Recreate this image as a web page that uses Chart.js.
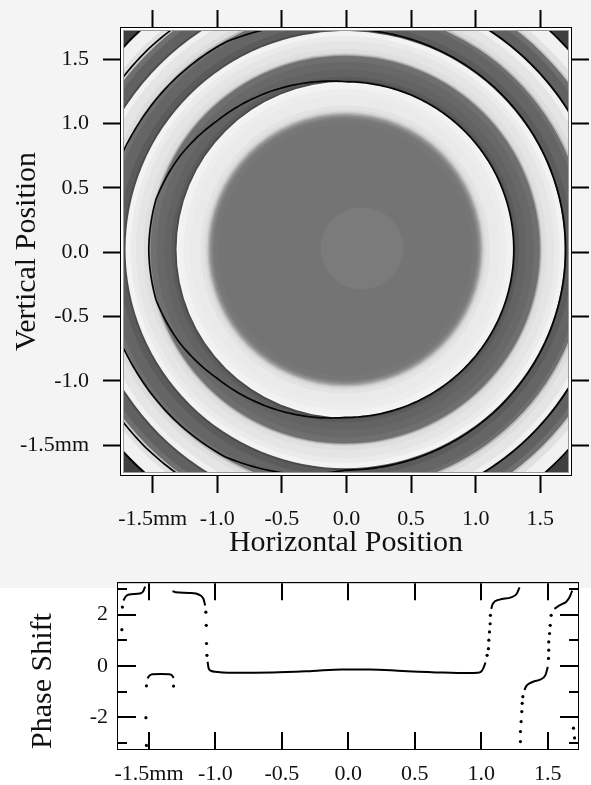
<!DOCTYPE html>
<html>
<head>
<meta charset="utf-8">
<script src="https://cdn.jsdelivr.net/npm/chart.js@4.4.0/dist/chart.umd.min.js"></script>
<style>
  html, body { margin: 0; padding: 0; }
  body {
    width: 591px; height: 785px; position: relative; overflow: hidden;
    background: linear-gradient(to bottom, #f4f4f4 0, #f4f4f4 588px, #ffffff 588px);
  }
  #mapChart { position: absolute; left: 0; top: 0; }
  #phaseChart { position: absolute; left: 0; top: 560px; }
</style>
</head>
<body>
<canvas id="mapChart" width="591" height="560"></canvas>
<canvas id="phaseChart" width="591" height="225"></canvas>
<script>
// ticks
const posTicks = [-1.5, -1.0, -0.5, 0.0, 0.5, 1.0, 1.5];
const posTickLabels = ['-1.5mm', '-1.0', '-0.5', '0.0', '0.5', '1.0', '1.5'];
const phaseTicks = [-2, 0, 2];
const phaseTickLabels = ['-2', '0', '2'];
const phaseMinorTicks = [-3, -1, 1, 3];

// phase map: rings round the centre, each phase fills the band out to its radius (mm)
const ringCentre = [-0.01, 0.02];
const ringRadius = [0.98, 1.015, 1.03, 1.045, 1.055, 1.065, 1.075, 1.09, 1.12, 1.2, 1.25, 1.29, 1.305, 1.32, 1.345, 1.4, 1.46, 1.505, 1.512, 1.518, 1.528, 1.56, 1.62, 1.66, 1.7, 1.715, 1.76, 1.84, 1.87, 1.885, 1.92, 1.99, 2.03, 2.045, 2.12, 2.16, 2.175, 2.22, 2.32, 2.6];
const ringPhase = [-0.28, -0.22, -0.05, 0.3, 0.8, 1.4, 1.95, 2.25, 2.45, 2.62, 2.7, 2.82, 2.95, -1.3, -0.9, -0.7, -0.58, -0.4, 0.4, 1.3, 2.0, 2.35, 2.5, 2.65, 2.85, -1.3, -0.9, -0.65, -0.4, 1.5, 2.3, 2.5, 2.8, -1.3, -0.75, -0.4, 1.8, 2.4, 2.8, -1.6];
// wrap lines (phase jumps from +pi to -pi), radius (mm) at each angle (deg)
const wrapAngles = [-180, -165, -150, -135, -120, -105, -90, 0, 90, 105, 120, 135, 150, 165, 180];
const wrap1Radius = [1.52, 1.515, 1.47, 1.41, 1.37, 1.335, 1.305, 1.305, 1.305, 1.335, 1.37, 1.41, 1.47, 1.515, 1.52];
const wrap2Radius = [1.89, 1.885, 1.875, 1.87, 1.86, 1.8, 1.715, 1.705, 1.715, 1.8, 1.86, 1.87, 1.875, 1.885, 1.89];
const wrap3Radius = [2.19, 2.19, 2.18, 2.18, 2.17, 2.12, 2.04, 2.035, 2.04, 2.12, 2.17, 2.18, 2.18, 2.19, 2.19];
const wrap4Radius = [2.33, 2.33, 2.33, 2.33, 2.33, 2.33, 2.325, 2.325, 2.325, 2.33, 2.33, 2.33, 2.33, 2.33, 2.33];
const spotCentre = [0.12, 0.03];
const spotRadius = 0.32;
const spotPhase = -0.12;

// phase shift along the horizontal line, smooth runs
const farLeftX = [-1.692, -1.674, -1.649, -1.561, -1.541, -1.529];
const farLeftY = [2.55, 2.71, 2.78, 2.83, 2.93, 3.09];
const leftDipX = [-1.511, -1.495, -1.474, -1.41, -1.348, -1.325, -1.315];
const leftDipY = [-0.49, -0.38, -0.33, -0.32, -0.33, -0.38, -0.47];
const leftShoulderX = [-1.323, -1.298, -1.197, -1.122, -1.09, -1.077];
const leftShoulderY = [2.91, 2.87, 2.84, 2.77, 2.61, 2.35];
const plateauX = [-1.059, -1.051, -1.03, -1.0, -0.9, -0.57, -0.27, -0.05, 0.16, 0.41, 0.71, 0.91, 0.97, 1.0, 1.015, 1.032];
const plateauY = [0.16, -0.1, -0.2, -0.23, -0.27, -0.26, -0.2, -0.14, -0.14, -0.2, -0.26, -0.28, -0.27, -0.22, -0.1, 0.13];
const rightShoulderX = [1.075, 1.087, 1.137, 1.225, 1.267, 1.288];
const rightShoulderY = [2.22, 2.42, 2.58, 2.67, 2.81, 3.06];
const rightDipX = [1.325, 1.34, 1.363, 1.40, 1.438, 1.483, 1.501];
const rightDipY = [-0.94, -0.78, -0.68, -0.6, -0.55, -0.36, -0.04];
const rightEdgeX = [1.551, 1.58, 1.614, 1.64, 1.664, 1.684];
const rightEdgeY = [2.22, 2.33, 2.42, 2.5, 2.67, 2.93];
// single samples on the steep parts
const stepX = [-1.704, -1.70, -1.523, -1.519, -1.519, -1.315, -1.072, -1.069, -1.067, -1.064, 1.044, 1.054, 1.057, 1.062, 1.067, 1.069, 1.295, 1.295, 1.300, 1.305, 1.308, 1.313, 1.506, 1.508, 1.508, 1.514, 1.519, 1.526, 1.694, 1.702];
const stepY = [1.41, 2.29, -2.02, -3.1, -0.78, -0.79, 2.09, 1.58, 0.87, 0.41, 0.41, 0.67, 1.0, 1.32, 1.64, 1.97, -2.95, -2.56, -2.17, -1.78, -1.46, -1.2, 0.29, 0.61, 0.93, 1.26, 1.58, 1.97, -2.43, -2.81];

const serif = "'Liberation Serif', 'Times New Roman', serif";
const ink = '#111';

function phaseGray(p) {
  const g = Math.max(0, Math.min(255, Math.round(255 * (p + Math.PI) / (2 * Math.PI))));
  return 'rgb(' + g + ',' + g + ',' + g + ')';
}
function fixTicks(values) {
  return scale => { scale.ticks = values.map(v => ({ value: v })); };
}
function pts(xs, ys) {
  return xs.map((v, i) => ({ x: v, y: ys[i] }));
}

const phaseMap = {
  id: 'phaseMap',
  beforeDatasetsDraw(chart) {
    const { ctx, chartArea: a, scales: { x, y } } = chart;
    const inset = 3;
    const box = { l: a.left + inset, t: a.top + inset, r: a.right - inset, b: a.bottom - inset };
    const toPx = (r, deg) => {
      const t = deg * Math.PI / 180;
      return [x.getPixelForValue(ringCentre[0] + r * Math.cos(t)), y.getPixelForValue(ringCentre[1] + r * Math.sin(t))];
    };
    ctx.save();
    ctx.fillStyle = '#ffffff';
    ctx.fillRect(a.left, a.top, a.width, a.height);
    ctx.beginPath();
    ctx.rect(box.l, box.t, box.r - box.l, box.b - box.t);
    ctx.clip();
    const cx = x.getPixelForValue(ringCentre[0]);
    const cy = y.getPixelForValue(ringCentre[1]);
    for (let i = ringRadius.length - 1; i >= 0; i--) {
      const rx = x.getPixelForValue(ringCentre[0] + ringRadius[i]) - cx;
      const ry = cy - y.getPixelForValue(ringCentre[1] + ringRadius[i]);
      ctx.fillStyle = phaseGray(ringPhase[i]);
      ctx.beginPath();
      ctx.ellipse(cx, cy, rx, ry, 0, 0, 2 * Math.PI);
      ctx.fill();
    }
    // lighter spot near the middle
    const sx = x.getPixelForValue(spotCentre[0]);
    const sy = y.getPixelForValue(spotCentre[1]);
    ctx.fillStyle = phaseGray(spotPhase);
    ctx.beginPath();
    ctx.ellipse(sx, sy, x.getPixelForValue(spotCentre[0] + spotRadius) - sx,
      sy - y.getPixelForValue(spotCentre[1] + spotRadius), 0, 0, 2 * Math.PI);
    ctx.fill();
    // wrap lines
    ctx.strokeStyle = '#050505';
    ctx.lineWidth = 1.7;
    [wrap1Radius, wrap2Radius, wrap3Radius, wrap4Radius].forEach(radius => {
      ctx.beginPath();
      for (let k = 0; k < wrapAngles.length - 1; k++) {
        const a0 = wrapAngles[k], a1 = wrapAngles[k + 1];
        const steps = Math.max(1, Math.round(a1 - a0));
        for (let s = 0; s <= steps; s++) {
          const f = s / steps;
          const p = toPx(radius[k] + (radius[k + 1] - radius[k]) * f, a0 + (a1 - a0) * f);
          if (k === 0 && s === 0) ctx.moveTo(p[0], p[1]); else ctx.lineTo(p[0], p[1]);
        }
      }
      ctx.stroke();
    });
    ctx.restore();
    ctx.save();
    ctx.strokeStyle = '#9a9a9a';
    ctx.lineWidth = 1;
    ctx.strokeRect(box.l - 0.5, box.t - 0.5, box.r - box.l + 1, box.b - box.t + 1);
    ctx.restore();
  }
};

const outTicks = { drawOnChartArea: false, drawTicks: true, tickLength: 18, tickWidth: 2, tickColor: '#000' };
const frame = { display: true, color: '#000', width: 2 };
const tickFont = { family: serif, size: 22 };
const titleFont = { family: serif, size: 30, lineHeight: 1 };

new Chart(document.getElementById('mapChart'), {
  type: 'scatter',
  data: { datasets: [] },
  options: {
    responsive: false,
    animation: false,
    events: [],
    layout: { padding: 0 },
    plugins: { legend: { display: false }, tooltip: { enabled: false } },
    scales: {
      x: {
        type: 'linear', position: 'bottom', min: -1.745, max: 1.738,
        afterBuildTicks: fixTicks(posTicks),
        afterFit: s => { s.height = 85; },
        grid: outTicks, border: frame,
        ticks: { padding: 13, font: tickFont, color: ink, maxRotation: 0, autoSkip: false, callback: (v, i) => posTickLabels[i] },
        title: { display: true, text: 'Horizontal Position', font: titleFont, color: ink, padding: { top: 0, bottom: 2 } }
      },
      x2: {
        type: 'linear', position: 'top', min: -1.745, max: 1.738,
        afterBuildTicks: fixTicks(posTicks),
        afterFit: s => { s.height = 28; },
        grid: outTicks, border: frame,
        ticks: { display: false }
      },
      y: {
        type: 'linear', position: 'left', min: -1.733, max: 1.743,
        afterBuildTicks: fixTicks(posTicks),
        afterFit: s => { s.width = 121; },
        grid: outTicks, border: frame,
        ticks: { padding: 14, font: tickFont, color: ink, autoSkip: false, callback: (v, i) => posTickLabels[i] },
        title: { display: true, text: 'Vertical Position', font: titleFont, color: ink, padding: { top: 12, bottom: 0 } }
      },
      y2: {
        type: 'linear', position: 'right', min: -1.733, max: 1.743,
        afterBuildTicks: fixTicks(posTicks),
        afterFit: s => { s.width = 20; },
        grid: outTicks, border: frame,
        ticks: { display: false }
      }
    }
  },
  plugins: [phaseMap]
});

const innerTicks = {
  id: 'innerTicks',
  beforeDatasetsDraw(chart) {
    const { ctx, chartArea: a } = chart;
    ctx.save();
    ctx.fillStyle = '#ffffff';
    ctx.fillRect(a.left, a.top, a.width, a.height);
    ctx.restore();
  },
  afterDatasetsDraw(chart) {
    const { ctx, chartArea: a, scales: { x, y } } = chart;
    ctx.save();
    ctx.strokeStyle = '#000';
    ctx.lineWidth = 2;
    ctx.beginPath();
    posTicks.forEach(v => {
      const px = Math.round(x.getPixelForValue(v));
      ctx.moveTo(px, a.top); ctx.lineTo(px, a.top + 17);
      ctx.moveTo(px, a.bottom); ctx.lineTo(px, a.bottom - 17);
    });
    phaseTicks.forEach(v => {
      const py = Math.round(y.getPixelForValue(v));
      ctx.moveTo(a.left, py); ctx.lineTo(a.left + 18, py);
      ctx.moveTo(a.right, py); ctx.lineTo(a.right - 18, py);
    });
    phaseMinorTicks.forEach(v => {
      const py = Math.round(y.getPixelForValue(v));
      ctx.moveTo(a.left, py); ctx.lineTo(a.left + 9, py);
      ctx.moveTo(a.right, py); ctx.lineTo(a.right - 9, py);
    });
    ctx.stroke();
    ctx.restore();
  }
};

const runs = [
  [farLeftX, farLeftY], [leftDipX, leftDipY], [leftShoulderX, leftShoulderY], [plateauX, plateauY],
  [rightShoulderX, rightShoulderY], [rightDipX, rightDipY], [rightEdgeX, rightEdgeY]
];
const noTicks = { drawOnChartArea: false, drawTicks: false };

new Chart(document.getElementById('phaseChart'), {
  type: 'scatter',
  data: {
    datasets: runs.map(([xs, ys]) => ({
      data: pts(xs, ys), showLine: true, borderColor: '#000', borderWidth: 2,
      pointRadius: 0, cubicInterpolationMode: 'monotone'
    })).concat([{
      data: pts(stepX, stepY), showLine: false, pointRadius: 1.6,
      pointBackgroundColor: '#000', pointBorderWidth: 0
    }])
  },
  options: {
    responsive: false,
    animation: false,
    events: [],
    layout: { padding: 0 },
    plugins: { legend: { display: false }, tooltip: { enabled: false } },
    scales: {
      x: {
        type: 'linear', position: 'bottom', min: -1.733, max: 1.728,
        afterBuildTicks: fixTicks(posTicks),
        afterFit: s => { s.height = 36; },
        grid: noTicks, border: frame,
        ticks: { padding: 12, font: tickFont, color: ink, maxRotation: 0, autoSkip: false, callback: (v, i) => posTickLabels[i] }
      },
      x2: {
        type: 'linear', position: 'top', min: -1.733, max: 1.728,
        afterBuildTicks: fixTicks(posTicks),
        afterFit: s => { s.height = 22; },
        grid: noTicks, border: frame,
        ticks: { display: false }
      },
      y: {
        type: 'linear', position: 'left', min: -3.24, max: 3.22,
        afterBuildTicks: fixTicks(phaseTicks),
        afterFit: s => { s.width = 118; },
        grid: noTicks, border: frame,
        ticks: { padding: 10, font: tickFont, color: ink, autoSkip: false, callback: (v, i) => phaseTickLabels[i] },
        title: { display: true, text: 'Phase Shift', align: 'start', font: titleFont, color: ink, padding: { top: 28, bottom: 0 } }
      },
      y2: {
        type: 'linear', position: 'right', min: -3.24, max: 3.22,
        afterBuildTicks: fixTicks(phaseTicks),
        afterFit: s => { s.width = 13; },
        grid: noTicks, border: frame,
        ticks: { display: false }
      }
    }
  },
  plugins: [innerTicks]
});
</script>
</body>
</html>
